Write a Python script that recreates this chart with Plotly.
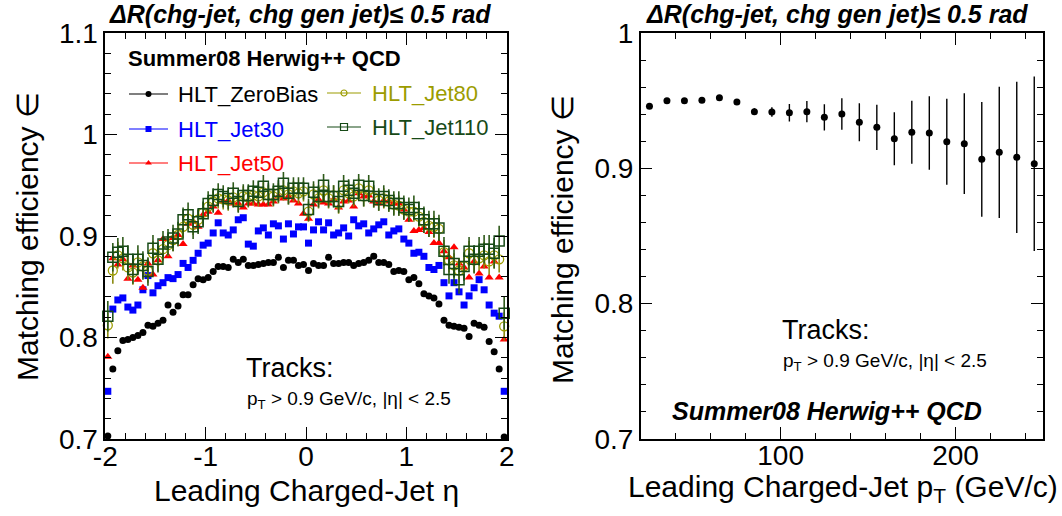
import plotly.graph_objects as go

W, H = 1062, 516
FONT = "Liberation Sans, Arial, sans-serif"

# ---------------- data: left panel (efficiency vs leading charged-jet eta) ----------------
eta_lo, eta_hi, n_eta = -2.0, 2.0, 80
eta = [round(eta_lo + (i + 0.5) * (eta_hi - eta_lo) / n_eta, 4) for i in range(n_eta)]

zerobias = [0.703, 0.769, 0.787, 0.797, 0.798, 0.800, 0.802, 0.805, 0.812, 0.811,
            0.814, 0.817, 0.832, 0.825, 0.831, 0.842, 0.842, 0.852, 0.858, 0.857,
            0.859, 0.865, 0.870, 0.870, 0.869, 0.877, 0.874, 0.877, 0.871, 0.871,
            0.872, 0.873, 0.874, 0.874, 0.879, 0.869, 0.876, 0.876, 0.871, 0.872,
            0.866, 0.873, 0.871, 0.871, 0.879, 0.873, 0.873, 0.874, 0.874, 0.871,
            0.873, 0.874, 0.876, 0.880, 0.874, 0.874, 0.872, 0.865, 0.866, 0.865,
            0.857, 0.859, 0.853, 0.843, 0.841, 0.839, 0.833, 0.817, 0.812, 0.811,
            0.810, 0.809, 0.801, 0.814, 0.812, 0.810, 0.796, 0.786, 0.769, 0.702]

jet30 = [0.747, 0.828, 0.837, 0.839, 0.830, 0.827, 0.832, 0.847, 0.861, 0.844,
         0.851, 0.854, 0.859, 0.858, 0.862, 0.873, 0.869, 0.876, 0.883, 0.891,
         0.893, 0.903, 0.913, 0.903, 0.901, 0.906, 0.916, 0.918, 0.892, 0.890,
         0.905, 0.908, 0.901, 0.912, 0.910, 0.897, 0.912, 0.902, 0.909, 0.909,
         0.893, 0.906, 0.914, 0.906, 0.913, 0.901, 0.903, 0.908, 0.900, 0.916,
         0.910, 0.912, 0.903, 0.907, 0.911, 0.914, 0.901, 0.905, 0.907, 0.897,
         0.893, 0.883, 0.884, 0.880, 0.869, 0.867, 0.871, 0.854, 0.841, 0.854,
         0.845, 0.832, 0.841, 0.849, 0.857, 0.847, 0.832, 0.824, 0.821, 0.747]

jet50 = [0.781, 0.878, 0.872, 0.877, 0.858, 0.871, 0.857, 0.849, 0.873, 0.862,
         0.876, 0.897, 0.880, 0.898, 0.901, 0.892, 0.912, 0.914, 0.909, 0.921,
         0.924, 0.929, 0.923, 0.934, 0.935, 0.932, 0.932, 0.928, 0.932, 0.932,
         0.931, 0.931, 0.931, 0.934, 0.939, 0.937, 0.939, 0.935, 0.932, 0.922,
         0.917, 0.931, 0.936, 0.933, 0.932, 0.936, 0.928, 0.934, 0.935, 0.929,
         0.942, 0.939, 0.940, 0.934, 0.932, 0.935, 0.934, 0.932, 0.932, 0.926,
         0.916, 0.905, 0.906, 0.908, 0.904, 0.893, 0.893, 0.885, 0.879, 0.889,
         0.873, 0.869, 0.859, 0.875, 0.863, 0.870, 0.859, 0.875, 0.859, 0.798]

jet80 = [0.812, 0.866, 0.881, 0.878, 0.869, 0.864, 0.874, 0.870, 0.866, 0.883,
         0.876, 0.887, 0.891, 0.896, 0.901, 0.909, 0.917, 0.911, 0.916, 0.923,
         0.929, 0.934, 0.937, 0.936, 0.935, 0.938, 0.934, 0.939, 0.938, 0.940,
         0.939, 0.943, 0.940, 0.939, 0.942, 0.945, 0.941, 0.944, 0.942, 0.944,
         0.924, 0.941, 0.937, 0.945, 0.937, 0.940, 0.932, 0.945, 0.942, 0.939,
         0.947, 0.939, 0.945, 0.938, 0.935, 0.937, 0.934, 0.931, 0.930, 0.926,
         0.924, 0.924, 0.919, 0.914, 0.910, 0.909, 0.907, 0.884, 0.876, 0.871,
         0.866, 0.870, 0.883, 0.876, 0.878, 0.881, 0.875, 0.881, 0.877, 0.811]

jet110 = [0.821, 0.879, 0.884, 0.885, 0.877, 0.867, 0.877, 0.871, 0.865, 0.888,
          0.877, 0.892, 0.894, 0.898, 0.902, 0.916, 0.921, 0.909, 0.914, 0.922,
          0.932, 0.935, 0.941, 0.939, 0.937, 0.942, 0.934, 0.940, 0.940, 0.944,
          0.943, 0.949, 0.941, 0.941, 0.944, 0.952, 0.942, 0.947, 0.947, 0.947,
          0.926, 0.943, 0.939, 0.950, 0.939, 0.939, 0.934, 0.949, 0.945, 0.942,
          0.950, 0.940, 0.949, 0.939, 0.936, 0.939, 0.935, 0.932, 0.932, 0.928,
          0.926, 0.928, 0.922, 0.916, 0.912, 0.912, 0.908, 0.885, 0.867, 0.873,
          0.857, 0.870, 0.885, 0.877, 0.885, 0.887, 0.887, 0.883, 0.895, 0.824]

jet80_err = [0.013, 0.013, 0.013, 0.012, 0.012, 0.012, 0.012, 0.012, 0.012, 0.012,
             0.011, 0.011, 0.011, 0.011, 0.011, 0.011, 0.010, 0.010, 0.010, 0.010,
             0.010, 0.010, 0.010, 0.010, 0.010, 0.010, 0.010, 0.010, 0.010, 0.010,
             0.010, 0.010, 0.010, 0.010, 0.010, 0.010, 0.010, 0.010, 0.010, 0.010,
             0.010, 0.010, 0.010, 0.010, 0.010, 0.010, 0.010, 0.010, 0.010, 0.010,
             0.010, 0.010, 0.010, 0.010, 0.010, 0.010, 0.010, 0.010, 0.010, 0.010,
             0.010, 0.010, 0.010, 0.011, 0.011, 0.011, 0.011, 0.012, 0.012, 0.012,
             0.012, 0.012, 0.012, 0.012, 0.012, 0.013, 0.013, 0.013, 0.013, 0.014]

jet110_err = [0.015, 0.014, 0.014, 0.014, 0.014, 0.014, 0.014, 0.014, 0.014, 0.013,
              0.013, 0.013, 0.013, 0.013, 0.012, 0.012, 0.012, 0.012, 0.012, 0.012,
              0.012, 0.012, 0.011, 0.011, 0.011, 0.011, 0.011, 0.011, 0.011, 0.011,
              0.011, 0.011, 0.011, 0.011, 0.011, 0.011, 0.011, 0.011, 0.011, 0.011,
              0.011, 0.011, 0.011, 0.011, 0.011, 0.011, 0.011, 0.011, 0.011, 0.011,
              0.011, 0.011, 0.011, 0.011, 0.011, 0.011, 0.011, 0.012, 0.012, 0.012,
              0.012, 0.012, 0.012, 0.013, 0.013, 0.013, 0.013, 0.014, 0.014, 0.014,
              0.014, 0.014, 0.014, 0.014, 0.014, 0.014, 0.014, 0.015, 0.015, 0.016]

# ---------------- data: right panel (efficiency vs leading charged-jet pT) ----------------
pt = [25, 35, 45, 55, 65, 75, 85, 95, 105, 115, 125, 135, 145, 155, 165, 175,
      185, 195, 205, 215, 225, 235, 245]
eff_pt = [0.9458, 0.9500, 0.9500, 0.9503, 0.9522, 0.9490, 0.9419, 0.9416, 0.9411,
          0.9419, 0.9377, 0.9401, 0.9340, 0.9303, 0.9219, 0.9266, 0.9261, 0.9197,
          0.9182, 0.9067, 0.9118, 0.9081, 0.9034]
eff_pt_err = [0.0010, 0.0010, 0.0010, 0.0010, 0.0012, 0.0015, 0.0025, 0.0035, 0.0065,
              0.0079, 0.0097, 0.0116, 0.0140, 0.0167, 0.0196, 0.0233, 0.0272, 0.0318,
              0.0372, 0.0424, 0.0485, 0.0559, 0.0644]

# ---------------- texts ----------------
panel_title = "<b><i>\u0394R(chg-jet, chg gen jet)\u2264 0.5 rad</i></b>"
ytitle = "Matching efficiency \u2208"
xtitle_left = "Leading Charged-Jet \u03b7"
xtitle_right = "Leading Charged-Jet p<sub>T</sub> (GeV/c)"
sample_label = "Summer08 Herwig++ QCD"
legend_names = ["HLT_ZeroBias", "HLT_Jet30", "HLT_Jet50", "HLT_Jet80", "HLT_Jet110"]
left_xticks = [-2, -1, 0, 1, 2]
left_xticktext = ["-2", "-1", "0", "1", "2"]
left_yticks = [0.7, 0.8, 0.9, 1.0, 1.1]
left_yticktext = ["0.7", "0.8", "0.9", "1", "1.1"]
right_xticks = [100, 200]
right_xticktext = ["100", "200"]
right_yticks = [0.7, 0.8, 0.9, 1.0]
right_yticktext = ["0.7", "0.8", "0.9", "1"]

# ---------------- styles ----------------
BLACK, BLUE, RED = "#000000", "#0000ff", "#ff0000"
OLIVE, DKGREEN = "#9c9c00", "#174a17"
ERRBAR80 = "#8a8a10"
ERRBAR110 = "#2e5a1a"

series = [
    (zerobias, None, dict(symbol="circle", size=7, color=BLACK), BLACK),
    (jet30, None, dict(symbol="square", size=7, color=BLUE), BLUE),
    (jet50, None, dict(symbol="triangle-up", size=8, color=RED), RED),
    (jet80, jet80_err, dict(symbol="circle-open", size=9, color=OLIVE, line=dict(width=1.3, color=OLIVE)), ERRBAR80),
    (jet110, jet110_err, dict(symbol="square-open", size=10, color=DKGREEN, line=dict(width=1.5, color=DKGREEN)), ERRBAR110),
]

fig = go.Figure()
for yv, err, mk, ecol in series:
    kw = {}
    if err is not None:
        kw["error_y"] = dict(type="data", array=err, color=ecol, thickness=1.6, width=0)
    fig.add_trace(go.Scatter(x=eta, y=yv, mode="markers", marker=mk, cliponaxis=False,
                             xaxis="x", yaxis="y", showlegend=False, **kw))

fig.add_trace(go.Scatter(x=pt, y=eff_pt, mode="markers",
                         marker=dict(symbol="circle", size=7, color=BLACK),
                         error_y=dict(type="data", array=eff_pt_err, color=BLACK, thickness=1.4, width=0),
                         cliponaxis=False, xaxis="x2", yaxis="y2", showlegend=False))

# ---------------- legend glyphs (pixel-space overlay axis) ----------------
leg_pos = [(129, 168, 176, 94), (129, 168, 176, 129), (129, 168, 176, 163),
           (327, 361, 370, 93), (327, 361, 370, 127)]
leg_colors = [BLACK, BLUE, RED, OLIVE, DKGREEN]
leg_markers = [dict(symbol="circle", size=6, color=BLACK),
               dict(symbol="square", size=6, color=BLUE),
               dict(symbol="triangle-up", size=6, color=RED),
               dict(symbol="circle-open", size=6, color=OLIVE, line=dict(width=1.2, color=OLIVE)),
               dict(symbol="square-open", size=7, color=DKGREEN, line=dict(width=1.2, color=DKGREEN))]
shapes = []
annotations = []
for (x0, x1, tx, ty), col, mk, name in zip(leg_pos, leg_colors, leg_markers, legend_names):
    shapes.append(dict(type="line", xref="x3", yref="y3", x0=x0, x1=x1, y0=ty, y1=ty,
                       line=dict(color=col, width=1.2)))
    fig.add_trace(go.Scatter(x=[(x0 + x1) / 2], y=[ty], mode="markers", marker=mk,
                             xaxis="x3", yaxis="y3", showlegend=False, cliponaxis=False,
                             hoverinfo="skip"))
    annotations.append(dict(xref="x3", yref="y3", x=tx, y=ty, text=name, showarrow=False,
                            xanchor="left", yanchor="middle",
                            font=dict(family=FONT, size=22, color=col)))


def ann(x, y, text, size, xanchor="center", yanchor="middle", angle=0, color="black"):
    annotations.append(dict(xref="x3", yref="y3", x=x, y=y, text=text, showarrow=False,
                            xanchor=xanchor, yanchor=yanchor, textangle=angle,
                            font=dict(family=FONT, size=size, color=color)))


ann(300, 14, panel_title, 25)
ann(837, 14, panel_title, 25)
ann(27, 237, ytitle, 30, angle=-90)
ann(562, 240, ytitle, 30, angle=-90)
ann(306, 490, xtitle_left, 30)
ann(843, 488, xtitle_right, 30)
ann(126, 58, "<b>" + sample_label + "</b>", 22, xanchor="left")
ann(244, 368, "Tracks:", 27, xanchor="left")
ann(245, 400, "p<sub>T</sub> > 0.9 GeV/c, |\u03b7| < 2.5", 19, xanchor="left")
ann(780, 330, "Tracks:", 27, xanchor="left")
ann(781, 362, "p<sub>T</sub> > 0.9 GeV/c, |\u03b7| < 2.5", 19, xanchor="left")
ann(670, 411, "<b><i>" + sample_label + "</i></b>", 25, xanchor="left")


def axis(domain, rng, tickvals, ticktext, minor_tick0, minor_dtick, anchor, standoff):
    return dict(domain=domain, range=rng, anchor=anchor, automargin=False,
                tickmode="array", tickvals=tickvals, ticktext=ticktext,
                showline=True, linecolor="black", linewidth=1.5, mirror="allticks",
                ticks="inside", ticklen=12, tickwidth=1, tickcolor="black",
                showgrid=False, zeroline=False, fixedrange=True,
                ticklabelstandoff=standoff,
                tickfont=dict(family=FONT, size=28, color="black"),
                minor=dict(tickmode="linear", tick0=minor_tick0, dtick=minor_dtick,
                           ticks="inside", ticklen=6, tickwidth=1, tickcolor="black",
                           showgrid=False))


ydom = [1 - 439 / H, 1 - 33 / H]
fig.update_layout(
    template="none",
    width=W, height=H, margin=dict(l=0, r=0, t=0, b=0, pad=0, autoexpand=False),
    paper_bgcolor="white", plot_bgcolor="rgba(0,0,0,0)", showlegend=False,
    font=dict(family=FONT, color="black"),
    xaxis=axis([105.3 / W, 506.7 / W], [-2, 2], left_xticks, left_xticktext, -2, 0.2, "y", -8),
    yaxis=axis(ydom, [0.7, 1.1], left_yticks, left_yticktext, 0.7, 0.02, "x", 0),
    xaxis2=axis([640.7 / W, 1043 / W], [20, 250], right_xticks, right_xticktext, 0, 20, "y2", -9),
    yaxis2=axis(ydom, [0.7, 1.0], right_yticks, right_yticktext, 0.7, 0.02, "x2", 0),
    xaxis3=dict(domain=[0, 1], range=[0, W], anchor="y3", visible=False, fixedrange=True, automargin=False),
    yaxis3=dict(domain=[0, 1], range=[H, 0], anchor="x3", visible=False, fixedrange=True, automargin=False),
    shapes=shapes, annotations=annotations,
)

fig.write_html("out.html",
               config={"displayModeBar": False},
               post_script="document.body.style.margin='0';document.body.style.overflow='hidden';")
